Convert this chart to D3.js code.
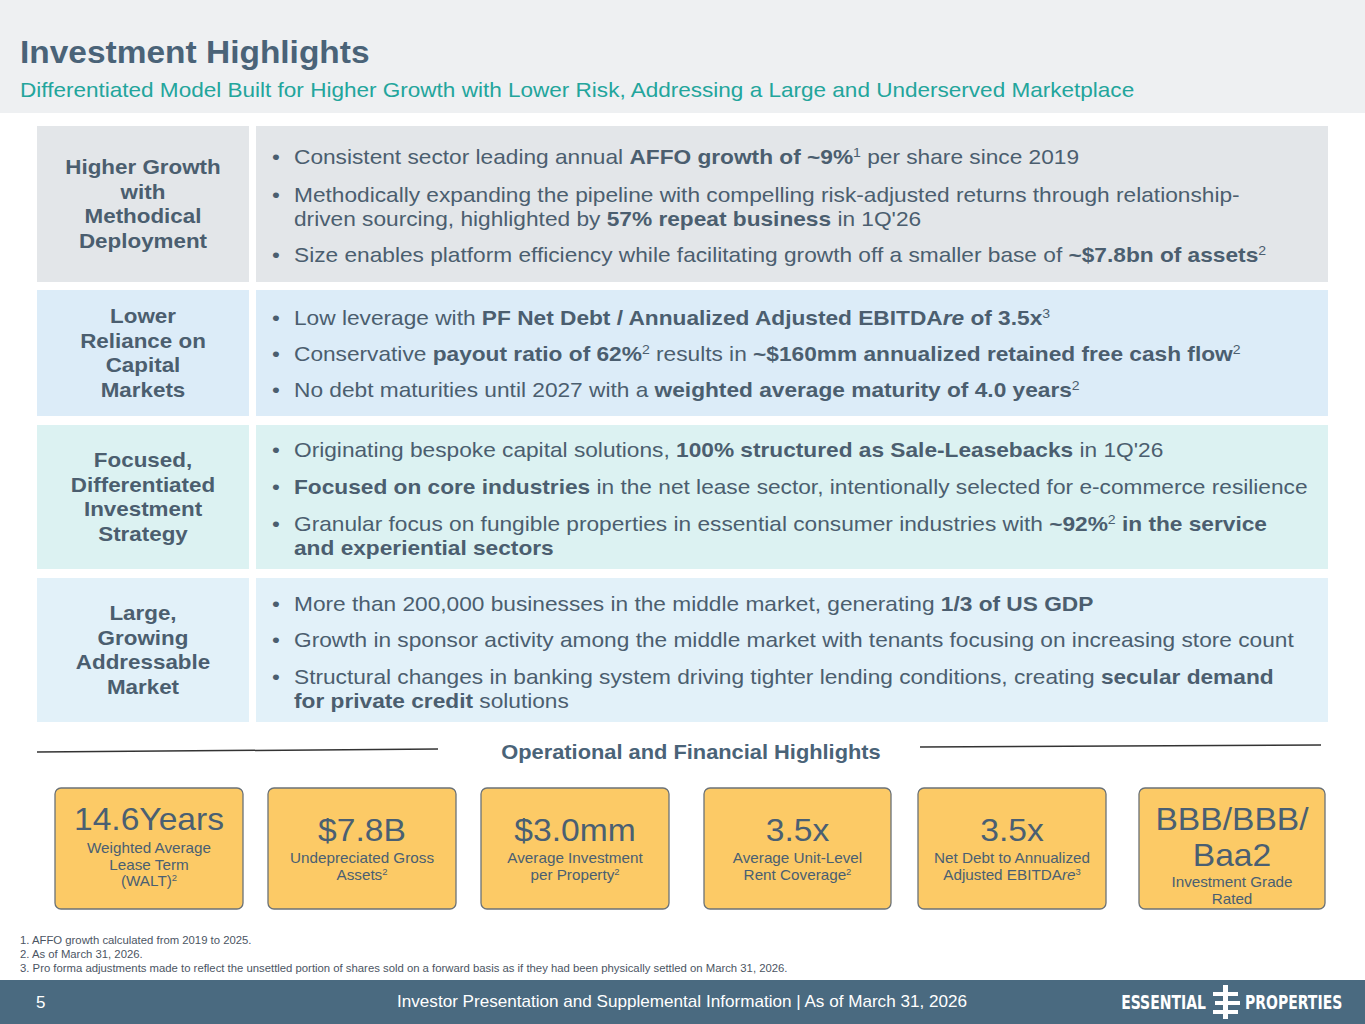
<!DOCTYPE html>
<html><head><meta charset="utf-8">
<script src="https://cdn.jsdelivr.net/npm/d3@7"></script>
<style>body{margin:0;background:#fff}svg{display:block;font-family:"Liberation Sans",Arial,sans-serif}</style>
</head><body><svg id="c" width="1365" height="1024"></svg>
<script>
const rowLabels=[["Higher Growth","with","Methodical","Deployment"],["Lower","Reliance on","Capital","Markets"],["Focused,","Differentiated","Investment","Strategy"],["Large,","Growing","Addressable","Market"]];
const rowBullets=[
 [["Consistent sector leading annual **AFFO growth of ~9%**^1^  per share since 2019"],["Methodically expanding the pipeline with compelling risk-adjusted returns through relationship-","driven sourcing, highlighted by **57% repeat business** in 1Q'26"],["Size enables platform efficiency while facilitating growth off a smaller base of **~$7.8bn of assets**^2^"]],
 [["Low leverage with **PF Net Debt / Annualized Adjusted EBITDA*re* of 3.5x**^3^"],["Conservative **payout ratio of 62%**^2^ results in **~$160mm annualized retained free cash flow**^2^"],["No debt maturities until 2027 with a **weighted average maturity of 4.0 years**^2^"]],
 [["Originating bespoke capital solutions, **100% structured as Sale-Leasebacks** in 1Q'26"],["**Focused on core industries** in the net lease sector, intentionally selected for e-commerce resilience"],["Granular focus on fungible properties in essential consumer industries with **~92%**^2^** in the service**","**and experiential sectors**"]],
 [["More than 200,000 businesses in the middle market, generating **1/3 of US GDP**"],["Growth in sponsor activity among the middle market with tenants focusing on increasing store count"],["Structural changes in banking system driving tighter lending conditions, creating **secular demand**","**for private credit** solutions"]]
];
const kpiValues=[["14.6Years"],["$7.8B"],["$3.0mm"],["3.5x"],["3.5x"],["BBB/BBB/","Baa2"]];
const kpiLabels=[["Weighted Average","Lease Term","(WALT)^2^"],["Undepreciated Gross","Assets^2^"],["Average Investment","per Property^2^"],["Average Unit-Level","Rent Coverage^2^"],["Net Debt to Annualized","Adjusted EBITDA*re*^3^"],["Investment Grade","Rated"]];
const footnotes=["1.  AFFO growth calculated from 2019 to 2025.","2.  As of March 31, 2026.","3.  Pro forma adjustments made to reflect the unsettled portion of shares sold on a forward basis as if they had been physically settled on March 31, 2026."];

const svg=d3.select("#c");
const TXT="#4b5e6f";
function T(x,y,sx,anchor){
  return svg.append("g").attr("transform",`translate(${x},${y}) scale(${sx},1)`).append("text").attr("text-anchor",anchor||"start");
}
function rich(sel,str,size){
  const toks=str.split(/(\*\*|\^|\*)/);let b=false,s=false,i=false;
  toks.forEach(t=>{
    if(t==="**"){b=!b;return;} if(t==="^"){s=!s;return;} if(t==="*"){i=!i;return;}
    if(!t)return;
    const ts=sel.append("tspan").text(t).attr("font-weight",b?"bold":"normal").attr("font-style",i?"italic":"normal");
    if(s){ts.attr("font-size",size*0.62).attr("baseline-shift","super");}
  });
}
svg.append("rect").attr("width",1365).attr("height",113).attr("fill","#eef0f2");
T(20,63,1.08).attr("font-size",31).attr("font-weight","bold").attr("fill","#4a6378").text("Investment Highlights");
T(20,97,1.1).attr("font-size",20.5).attr("fill","#23a59c").text("Differentiated Model Built for Higher Growth with Lower Risk, Addressing a Large and Underserved Marketplace");

const rowY=d3.scaleOrdinal().domain([0,1,2,3]).range([126,290,425,578]);
const rowH=[156,126,144,144];
const bg=["#e3e6e9","#dcecf8","#dcf2f2","#e2f1f9"];
const lineStarts=[[157,195,255],[318,354,390],[450,487,524],[604,640,677]];
rowLabels.forEach((lab,r)=>{
  const y0=rowY(r),h=rowH[r];
  svg.append("rect").attr("x",37).attr("y",y0).attr("width",212).attr("height",h).attr("fill",bg[r]);
  svg.append("rect").attr("x",256).attr("y",y0).attr("width",1072).attr("height",h).attr("fill",bg[r]);
  const cy=y0+h/2, lh=24.5;
  lab.forEach((l,k)=>T(143,cy+(k-(lab.length-1)/2)*lh+7,1.12,"middle").attr("font-size",20).attr("font-weight","bold").attr("fill",TXT).text(l));
  rowBullets[r].forEach((b,k)=>{
    const y=lineStarts[r][k]+7;
    T(272,y,1.12).attr("font-size",20).attr("fill",TXT).text("•");
    b.forEach((ln,j)=>{const t=T(294,y+j*24,1.135).attr("font-size",20).attr("fill",TXT);rich(t,ln,20);});
  });
});
svg.append("line").attr("x1",37).attr("y1",752).attr("x2",438).attr("y2",749).attr("stroke","#333").attr("stroke-width",1.5);
svg.append("line").attr("x1",920).attr("y1",747).attr("x2",1321).attr("y2",745).attr("stroke","#333").attr("stroke-width",1.5);
T(691,759,1.04,"middle").attr("font-size",21).attr("font-weight","bold").attr("fill","#4a6378").text("Operational and Financial Highlights");
const kx=[55,268,481,704,918,1139], kw=[188,188,188,187,188,186];
kpiValues.forEach((v,i)=>{
  svg.append("rect").attr("x",kx[i]).attr("y",788).attr("width",kw[i]).attr("height",121).attr("rx",6).attr("fill","#fcca66").attr("stroke","#6b7277").attr("stroke-width",1.3);
  const cx=kx[i]+kw[i]/2;
  const multi=v.length>1, first=(i===0);
  const vy=multi?[830,866]:[first?830:841];
  v.forEach((s,j)=>T(cx,vy[j],1.05,"middle").attr("font-size",32).attr("fill","#4a5f72").text(s));
  const ly=multi?887:(first?853:863);
  kpiLabels[i].forEach((s,j)=>{const t=T(cx,ly+j*16.5,1.09,"middle").attr("font-size",14).attr("fill","#4a5f72");rich(t,s,14);});
});
footnotes.forEach((f,i)=>T(20,944+i*14,1.08).attr("font-size",10.5).attr("fill","#4b5563").text(f));
svg.append("rect").attr("y",980).attr("width",1365).attr("height",44).attr("fill","#4a6a80");
svg.append("text").attr("x",36).attr("y",1008).attr("font-size",17).attr("fill","#fff").text("5");
T(682,1007,1.07,"middle").attr("font-size",16).attr("fill","#fff").text("Investor Presentation and Supplemental Information |  As of March 31, 2026");
T(1206,1009,0.82,"end").attr("font-size",19).attr("font-weight","bold").attr("font-family","DejaVu Sans Condensed").attr("fill","#fff").text("ESSENTIAL");
T(1245,1009,0.82).attr("font-size",19).attr("font-weight","bold").attr("font-family","DejaVu Sans Condensed").attr("fill","#fff").text("PROPERTIES");
const lg=svg.append("g").attr("fill","#fff");
lg.append("rect").attr("x",1223).attr("y",985).attr("width",5).attr("height",34);
[[1213,992],[1215,1001],[1213,1010]].forEach(([x,y])=>lg.append("rect").attr("x",x).attr("y",y).attr("width",25).attr("height",4));
</script></body></html>
